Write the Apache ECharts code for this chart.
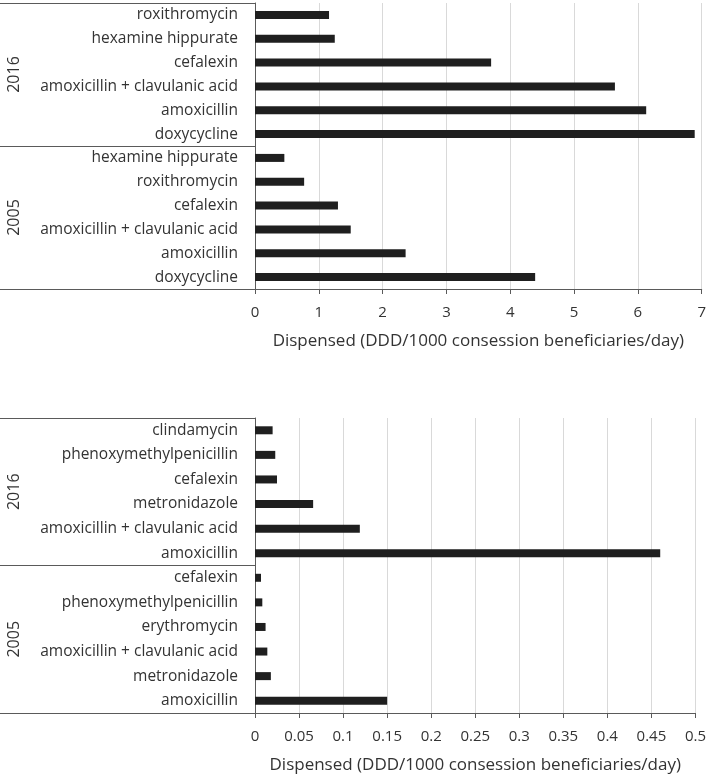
<!DOCTYPE html>
<html><head><meta charset="utf-8">
<script src="https://cdn.jsdelivr.net/npm/echarts@6/dist/echarts.min.js"></script>
<style>html,body{margin:0;padding:0;background:#fff}#c{width:709px;height:777px}</style>
</head><body><div id="c"></div>
<script>
// Top panel (listed top to bottom)
const topNames2016 = ['roxithromycin','hexamine hippurate','cefalexin','amoxicillin + clavulanic acid','amoxicillin','doxycycline'];
const topValues2016 = [1.16, 1.25, 3.70, 5.64, 6.13, 6.89];
const topNames2005 = ['hexamine hippurate','roxithromycin','cefalexin','amoxicillin + clavulanic acid','amoxicillin','doxycycline'];
const topValues2005 = [0.46, 0.77, 1.30, 1.50, 2.36, 4.39];
const topTicks = {min: 0, max: 7, interval: 1};
// Bottom panel
const botNames2016 = ['clindamycin','phenoxymethylpenicillin','cefalexin','metronidazole','amoxicillin + clavulanic acid','amoxicillin'];
const botValues2016 = [0.020, 0.023, 0.025, 0.066, 0.119, 0.460];
const botNames2005 = ['cefalexin','phenoxymethylpenicillin','erythromycin','amoxicillin + clavulanic acid','metronidazole','amoxicillin'];
const botValues2005 = [0.0068, 0.0083, 0.012, 0.014, 0.018, 0.150];
const botTicks = {min: 0, max: 0.5, interval: 0.05};
const years = ['2016','2005'];
const xTitle = 'Dispensed (DDD/1000 consession beneficiaries/day)';

const FONT = 'Open Sans';
const TXT = '#333333';
const AX = '#5a5a5a';

function cats(n16, n05){ return n16.map(n=>'2016|'+n).concat(n05.map(n=>'2005|'+n)); }
const topCats = cats(topNames2016, topNames2005);
const botCats = cats(botNames2016, botNames2005);

function xAx(grid, t){
  return {type:'value', gridIndex:grid, min:t.min, max:t.max, interval:t.interval,
    name:xTitle, nameLocation:'middle', nameGap:44,
    nameTextStyle:{fontFamily:FONT, fontSize:17, color:TXT},
    axisLine:{show:true, lineStyle:{color:AX, width:1}},
    axisTick:{show:true, length:5, lineStyle:{color:AX}},
    axisLabel:{fontFamily:FONT, fontSize:15, color:TXT, margin:16},
    splitLine:{show:true, lineStyle:{color:'#d9d9d9', width:1}}};
}
function yCat(grid, data){
  return {type:'category', gridIndex:grid, inverse:true, data:data, position:'left',
    axisLine:{show:true, lineStyle:{color:AX, width:1}},
    axisTick:{show:false},
    axisLabel:{fontFamily:FONT, fontSize:15.5, color:TXT, margin:17, interval:0,
      formatter:v=>v.split('|')[1]},
    splitLine:{show:false}};
}
function yYear(grid){
  return {type:'category', gridIndex:grid, inverse:true, data:years, position:'left', offset:0,
    axisLine:{show:false},
    axisTick:{show:true, length:255, interval:0, lineStyle:{color:AX, width:1}},
    axisLabel:{fontFamily:FONT, fontSize:16, color:TXT, rotate:90, margin:233, interval:0},
    splitLine:{show:false}};
}
const chart = echarts.init(document.getElementById('c'), null, {renderer:'canvas'});
chart.setOption({
  animation:false,
  backgroundColor:'#fff',
  grid:[
    {left:255, top:3, width:448, height:286},
    {left:255, top:418, width:442, height:295}
  ],
  xAxis:[xAx(0, topTicks), xAx(1, botTicks)],
  yAxis:[yCat(0, topCats), yYear(0), yCat(1, botCats), yYear(1)],
  series:[
    {type:'bar', xAxisIndex:0, yAxisIndex:0, barWidth:8, itemStyle:{color:'#1f1f1f'},
      data: topValues2016.concat(topValues2005)},
    {type:'bar', xAxisIndex:1, yAxisIndex:2, barWidth:8, itemStyle:{color:'#1f1f1f'},
      data: botValues2016.concat(botValues2005)}
  ]
});
</script></body></html>
